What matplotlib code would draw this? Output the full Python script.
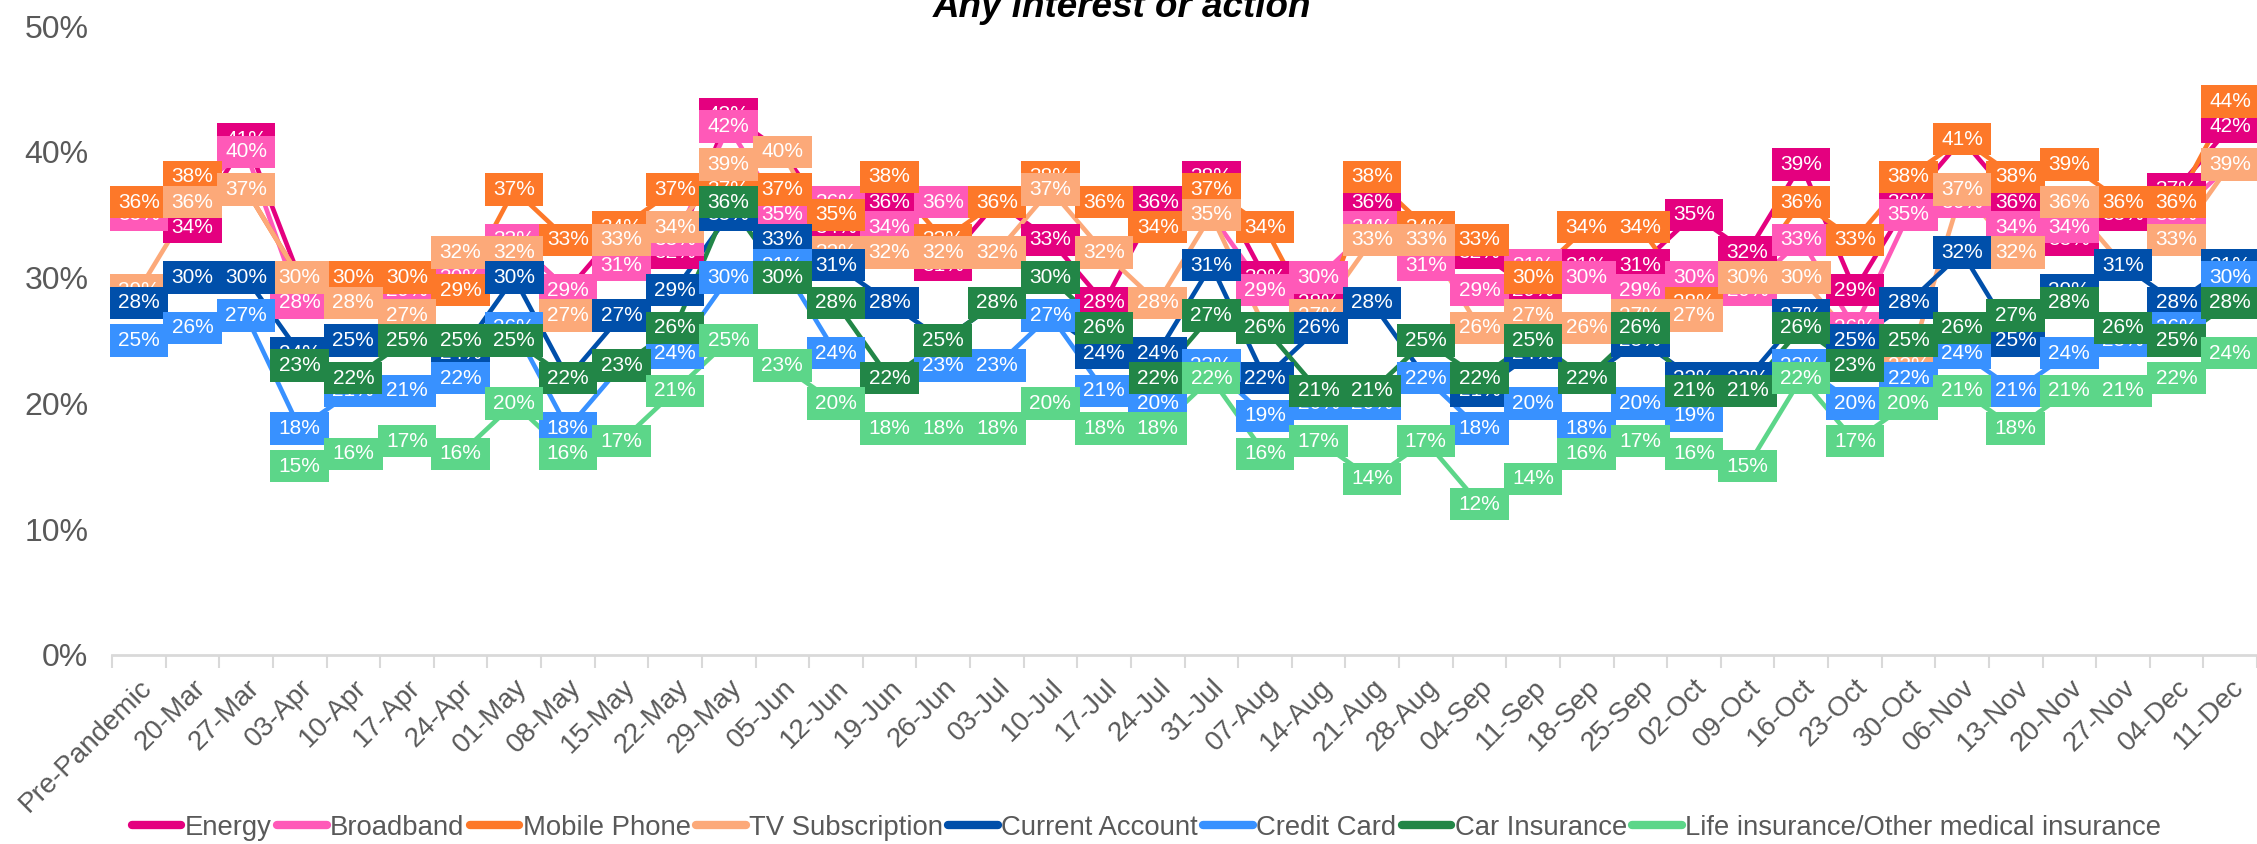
import numpy as np
import matplotlib.pyplot as plt
from matplotlib.lines import Line2D

plt.rcParams['font.family'] = ['Liberation Sans', 'DejaVu Sans']

nan = np.nan

weeks = ["Pre-Pandemic", "20-Mar", "27-Mar", "03-Apr", "10-Apr", "17-Apr", "24-Apr",
         "01-May", "08-May", "15-May", "22-May", "29-May", "05-Jun", "12-Jun", "19-Jun",
         "26-Jun", "03-Jul", "10-Jul", "17-Jul", "24-Jul", "31-Jul", "07-Aug", "14-Aug",
         "21-Aug", "28-Aug", "04-Sep", "11-Sep", "18-Sep", "25-Sep", "02-Oct", "09-Oct",
         "16-Oct", "23-Oct", "30-Oct", "06-Nov", "13-Nov", "20-Nov", "27-Nov", "04-Dec",
         "11-Dec"]

# values in %
energy = [35, 34, 41, 30, 29, 29, 30, 33, 29, 34, 32, 43, 40, 34, 36, 31, 36, 33, 28, 36,
          38, 30, 28, 36, 33, 32, 29, 31, 31, 35, 32, 39, 29, 36, 41, 36, 33, 35, 37, 42]
broadband = [35, 37, 40, 28, 29, 29, 30, 33, 29, 31, 33, 42, 35, 36, 34, 36, 36, 37, 36, 34,
             35, 29, 30, 34, 31, 29, 31, 30, 29, 30, 29, 33, 26, 35, 36, 34, 34, 36, 35, 39]
mobile = [36, 38, 37, 30, 30, 30, 29, 37, 33, 34, 37, 37, 37, 35, 38, 33, 36, 38, 36, 34,
          37, 34, 26, 38, 34, 33, 30, 34, 34, 28, 30, 36, 33, 38, 41, 38, 39, 36, 36, 44]
tv = [29, 36, 37, 30, 28, 27, 32, 32, 27, 33, 34, 39, 40, 32, 32, 32, 32, 37, 32, 28,
      35, 26, 27, 33, 33, 26, 27, 26, 27, 27, 30, 30, 25, 23, 37, 32, 36, 31, 33, 39]
current = [28, 30, 30, 24, 25, 25, 24, 30, 22, 27, 29, 35, 33, 31, 28, 25, 28, 27, 24, 24,
           31, 22, 26, 28, 22, 21, 24, 22, 25, 22, 22, 27, 25, 28, 32, 25, 29, 31, 28, 31]
credit = [25, 26, 27, 18, 21, 21, 22, 26, 18, 23, 24, 30, 31, 24, 22, 23, 23, 27, 21, 20,
          23, 19, 20, 20, 22, 18, 20, 18, 20, 19, 21, 23, 20, 22, 24, 21, 24, 25, 26, 30]
car = [nan, nan, nan, 23, 22, 25, 25, 25, 22, 23, 26, 36, 30, 28, 22, 25, 28, 30, 26, 22,
       27, 26, 21, 21, 25, 22, 25, 22, 26, 21, 21, 26, 23, 25, 26, 27, 28, 26, 25, 28]
life = [nan, nan, nan, 15, 16, 17, 16, 20, 16, 17, 21, 25, 23, 20, 18, 18, 18, 20, 18, 18,
        22, 16, 17, 14, 17, 12, 14, 16, 17, 16, 15, 22, 17, 20, 21, 18, 21, 21, 22, 24]

names = ["Energy", "Broadband", "Mobile Phone", "TV Subscription", "Current Account",
         "Credit Card", "Car Insurance", "Life insurance/Other medical insurance"]
colors = ["#E4007F", "#FF59B8", "#FD7829", "#FCA979", "#004FAA", "#3891FF", "#228647", "#5CD689"]
series = [energy, broadband, mobile, tv, current, credit, car, life]

fig = plt.figure(figsize=(22.57, 8.44), dpi=100)
ax = fig.add_axes([112 / 2257, 189 / 844, 2145 / 2257, 629 / 844])

x = np.arange(len(weeks))
for vals, col in zip(series, colors):
    ax.plot(x, np.array(vals, dtype=float) / 100, color=col, lw=3.3, zorder=2,
            solid_joinstyle='round')

# data labels, later series drawn on top
for k, (vals, col) in enumerate(zip(series, colors)):
    for i, v in enumerate(vals):
        if np.isnan(v):
            continue
        ax.text(i, v / 100, f"{v:.0f}%", ha='center', va='center', color='white',
                fontsize=15, zorder=10 + k,
                bbox=dict(boxstyle='square,pad=0.4', fc=col, ec='none', mutation_aspect=0.8))

ax.set_xlim(-0.5, len(weeks) - 0.5)
ax.set_ylim(0, 0.5)
ax.set_yticks(np.arange(0, 0.51, 0.1))
ax.set_yticklabels([f"{int(round(t * 100))}%" for t in np.arange(0, 0.51, 0.1)])
ax.set_xticks(x)
ax.set_xticklabels(weeks, rotation=45, ha='right', rotation_mode='anchor')
ax.set_xticks(np.arange(-0.5, len(weeks), 1), minor=True)
ax.tick_params(axis='x', which='major', length=0, pad=14, labelsize=20, labelcolor='#595959')
ax.tick_params(axis='x', which='minor', length=9, width=1.5, color='#D9D9D9')
ax.tick_params(axis='y', length=0, pad=17, labelsize=23, labelcolor='#595959')
for s in ['top', 'right', 'left']:
    ax.spines[s].set_visible(False)
ax.spines['bottom'].set_color('#D9D9D9')
ax.spines['bottom'].set_linewidth(2)

fig.text(0.497, 1 - 17 / 844, "Any interest or action", ha='center', va='baseline',
         fontsize=26.5, fontweight='bold', fontstyle='italic', color='black')

handles = [Line2D([0], [0], color=c, lw=6, solid_capstyle='round') for c in colors]
fig.legend(handles, names, loc='center', bbox_to_anchor=(0.508, 16 / 844), ncol=8,
           frameon=False, fontsize=19.8, handlelength=1.8, handletextpad=0.12,
           columnspacing=0.2, labelcolor='#595959', borderpad=0)

fig.savefig("out.png", dpi=100)
